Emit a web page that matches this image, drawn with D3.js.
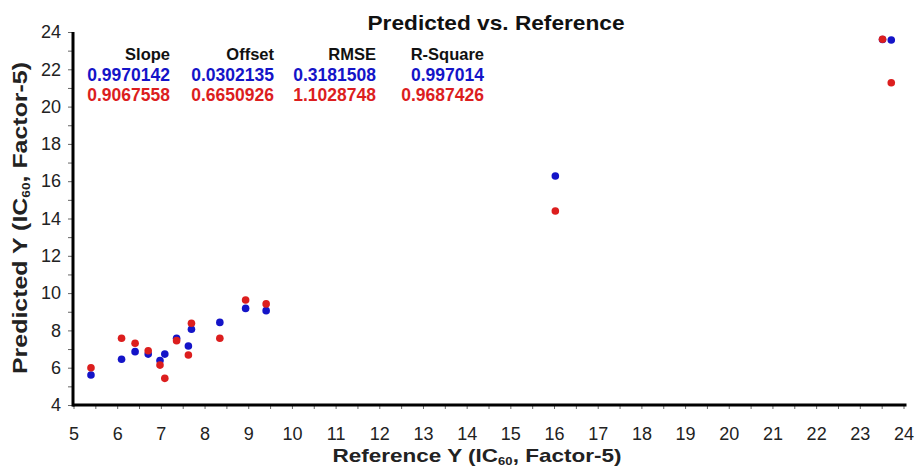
<!DOCTYPE html>
<html>
<head>
<meta charset="utf-8">
<script src="https://cdn.jsdelivr.net/npm/d3@7"></script>
<style>
  html, body { margin: 0; padding: 0; background: #fff; }
  svg { display: block; font-family: "Liberation Sans", Arial, sans-serif; }
</style>
</head>
<body>
<svg id="chart" width="916" height="468"></svg>
<script>
// Reference values (x) and two predicted series (y)
const referenceY = [5.40, 6.10, 6.41, 6.71, 6.98, 7.09, 7.36, 7.63, 7.70, 8.35, 8.94, 9.41, 16.03, 23.52, 23.72];
const predictedBlue = [5.61, 6.45, 6.86, 6.73, 6.38, 6.73, 7.58, 7.16, 8.06, 8.43, 9.18, 9.06, 16.28, 23.60, 23.57];
const predictedRed = [6.00, 7.58, 7.31, 6.91, 6.14, 5.43, 7.45, 6.68, 8.38, 7.58, 9.63, 9.42, 14.40, 23.61, 21.28];

// Fit statistics table
const statHeaders = ["Slope", "Offset", "RMSE", "R-Square"];
const statsBlue = ["0.9970142", "0.0302135", "0.3181508", "0.997014"];
const statsRed = ["0.9067558", "0.6650926", "1.1028748", "0.9687426"];

// Tick labels
const xTickValues = d3.range(5, 25, 1);
const yTickValues = d3.range(4, 25, 2);

const BLUE = "#1414c8";
const RED = "#dc1e1e";

const svg = d3.select("#chart");

const x = d3.scaleLinear().domain([5, 24]).range([73.5, 903.5]);
const y = d3.scaleLinear().domain([4, 24]).range([405, 32]);

// Minor ticks (x every 0.5, y every 1)
const xAxisMinor = d3.axisBottom(x).tickValues(d3.range(5, 24.01, 0.5)).tickSize(4).tickFormat("");
const yAxisMinor = d3.axisLeft(y).tickValues(d3.range(4, 24.01, 1)).tickSize(5).tickFormat("");

svg.append("g").attr("transform", "translate(0,405)").call(xAxisMinor)
  .call(g => g.select(".domain").remove())
  .call(g => g.selectAll("line").attr("stroke", "#666"));
svg.append("g").attr("transform", "translate(73,0)").call(yAxisMinor)
  .call(g => g.select(".domain").remove())
  .call(g => g.selectAll("line").attr("stroke", "#666"));

// Labeled ticks
const xAxis = d3.axisBottom(x).tickValues(xTickValues).tickSize(0).tickPadding(22).tickFormat(d3.format("d"));
const yAxis = d3.axisLeft(y).tickValues(yTickValues).tickSize(0).tickPadding(12).tickFormat(d3.format("d"));

svg.append("g").attr("transform", "translate(0,405)").call(xAxis)
  .call(g => g.select(".domain").remove())
  .call(g => g.selectAll("text").attr("font-size", 18).attr("font-family", "Liberation Sans, Arial, sans-serif").attr("fill", "#222"));
svg.append("g").attr("transform", "translate(73,0)").call(yAxis)
  .call(g => g.select(".domain").remove())
  .call(g => g.selectAll("text").attr("font-size", 18).attr("font-family", "Liberation Sans, Arial, sans-serif").attr("fill", "#222"));

// Axis lines
svg.append("line").attr("x1", x(5) - 1).attr("x2", x(24) + 3).attr("y1", 405).attr("y2", 405)
  .attr("stroke", "#000").attr("stroke-width", 3);
svg.append("line").attr("x1", 73).attr("x2", 73).attr("y1", y(24)).attr("y2", 406.5)
  .attr("stroke", "#000").attr("stroke-width", 3);

// Points: blue series first, red on top
const pts = svg.append("g");
pts.selectAll("circle.blue").data(referenceY).join("circle")
  .attr("class", "blue")
  .attr("cx", d => x(d)).attr("cy", (d, i) => y(predictedBlue[i])).attr("r", 3.8)
  .attr("fill", BLUE);
pts.selectAll("circle.red").data(referenceY).join("circle")
  .attr("class", "red")
  .attr("cx", d => x(d)).attr("cy", (d, i) => y(predictedRed[i])).attr("r", 3.8)
  .attr("fill", RED);

// Title
svg.append("text").attr("x", 496).attr("y", 30).attr("text-anchor", "middle")
  .attr("font-size", 21).attr("font-weight", "bold").attr("fill", "#111")
  .attr("textLength", 257).attr("lengthAdjust", "spacingAndGlyphs")
  .text("Predicted vs. Reference");

// Statistics table
const colRight = [170, 274, 376, 484];
const tbl = svg.append("g").attr("font-weight", "bold").attr("text-anchor", "end");
tbl.selectAll("text.hdr").data(statHeaders).join("text").attr("class", "hdr")
  .attr("x", (d, i) => colRight[i]).attr("y", 60).attr("font-size", 16.5).attr("fill", "#111").text(d => d);
tbl.selectAll("text.sb").data(statsBlue).join("text").attr("class", "sb")
  .attr("x", (d, i) => colRight[i]).attr("y", 81).attr("font-size", 17.5).attr("fill", BLUE).text(d => d);
tbl.selectAll("text.sr").data(statsRed).join("text").attr("class", "sr")
  .attr("x", (d, i) => colRight[i]).attr("y", 101).attr("font-size", 17.5).attr("fill", RED).text(d => d);

// Axis titles with subscript
function axisTitle(sel, main) {
  sel.append("tspan").text(main + " (IC");
  sel.append("tspan").attr("font-size", 11).attr("dy", 3).text("60");
  sel.append("tspan").attr("dy", -3).text(", Factor-5)");
}
svg.append("text").attr("x", 477).attr("y", 462).attr("text-anchor", "middle")
  .attr("font-size", 19).attr("font-weight", "bold").attr("fill", "#222")
  .attr("textLength", 289).attr("lengthAdjust", "spacingAndGlyphs")
  .call(axisTitle, "Reference Y");
svg.append("text").attr("transform", "translate(27,218) rotate(-90)").attr("text-anchor", "middle")
  .attr("font-size", 20).attr("font-weight", "bold").attr("fill", "#222")
  .attr("textLength", 312).attr("lengthAdjust", "spacingAndGlyphs")
  .call(axisTitle, "Predicted Y");
</script>
</body>
</html>
